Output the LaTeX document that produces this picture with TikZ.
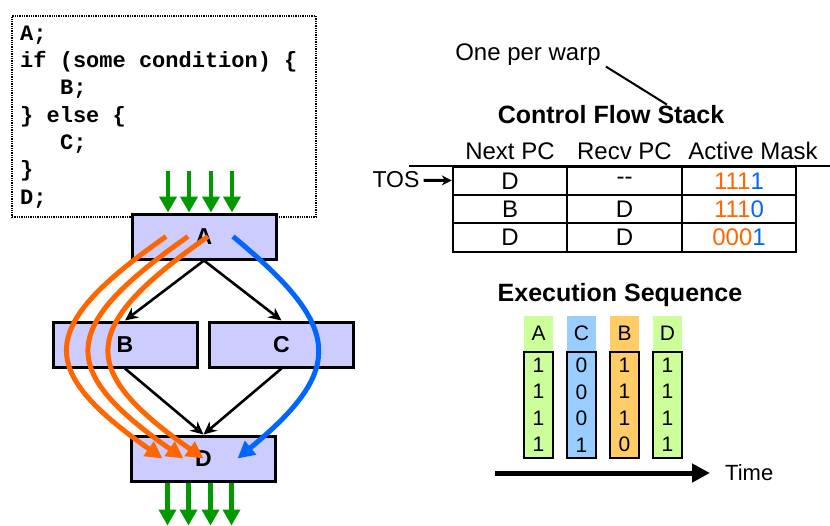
\documentclass[tikz,border=0pt]{standalone}
\usepackage{fontspec}
\setmainfont{Liberation Sans}
\newfontfamily\codefont{Liberation Mono}
\usetikzlibrary{arrows.meta,positioning,calc}

\definecolor{blockfill}{RGB}{204,204,255}
\definecolor{warpgreen}{RGB}{0,153,0}
\definecolor{pathor}{RGB}{255,102,0}
\definecolor{pathbl}{RGB}{0,102,255}
\definecolor{seqgreen}{RGB}{204,255,153}
\definecolor{seqblue}{RGB}{153,204,255}
\definecolor{seqor}{RGB}{255,204,102}

\newcommand\fsz[1]{\fontsize{#1}{#1}\selectfont}
\newcommand\hlo[1]{{\color{pathor}{#1}}}
\newcommand\hlb[1]{{\color{pathbl}{#1}}}

\tikzset{
  block/.style={draw, line width=3pt, fill=blockfill, minimum width=144pt, minimum height=45pt, font=\fsz{23}\bfseries},
  codeline/.style={anchor=base west, inner sep=0pt, font=\codefont\fsz{22}\bfseries},
  flowedge/.style={-{Stealth[length=13pt,width=12pt]}, line width=2.6pt},
  warp/.style={-{Triangle[length=16pt,width=17pt]}, line width=4.5pt, warpgreen},
  orpath/.style={-{Triangle[length=17pt,width=17pt]}, line width=5pt, pathor},
  blpath/.style={-{Triangle[length=17pt,width=17pt]}, line width=5pt, pathbl},
  txt/.style={inner sep=1pt, font=\fsz{24}},
  title/.style={inner sep=1pt, font=\fsz{25}\bfseries},
  stackcell/.style={draw, line width=2pt, minimum width=114.5pt, minimum height=28.3pt, inner sep=0pt, font=\fsz{24}},
  opbox/.style={minimum width=29pt, minimum height=35pt, inner sep=0pt, font=\fsz{21}},
  maskbox/.style={draw, line width=1.5pt, minimum width=29pt, minimum height=106pt, inner sep=0pt, align=center, font=\fontsize{21}{26.5}\selectfont},
  timeline/.style={-{Triangle[length=18pt,width=18pt]}, line width=5pt}
}

\begin{document}
\begin{tikzpicture}[x=1pt, y=-1pt]
  \useasboundingbox (0,0) rectangle (830,525);

  % code
  \node[draw, densely dotted, line width=1.3pt, minimum width=304pt, minimum height=201pt] (code) at (164,116.5) {};
  \node[codeline] (c1) at (20,40) {A;};
  \node[codeline] (c2) at (20,67.3) {if (some condition) \{};
  \node[codeline] (c3) at (60,94.7) {B;};
  \node[codeline] (c4) at (20,122) {\} else \{};
  \node[codeline] (c5) at (60,149.3) {C;};
  \node[codeline] (c6) at (20,176.7) {\}};
  \node[codeline] (c7) at (20,204) {D;};

  % control flow graph
  \node[block] (A) at (204,236.5) {A};
  \node[block] (B) at (125,344.5) {B};
  \node[block] (C) at (281.5,344.5) {C};
  \node[block] (D) at (203.5,458.5) {D};

  \draw[flowedge] (A.south) -- (B.north);
  \draw[flowedge] (A.south) -- (C.north);
  \draw[flowedge] (B.south) -- (D.north);
  \draw[flowedge] (C.south) -- (D.north);

  \foreach \dx in {-36,-15,7,28} {
    \draw[warp] ([xshift=\dx pt, yshift=42pt]A.north) -- ([xshift=\dx pt]A.north);
    \draw[warp] ([xshift=\dx pt]D.south) -- ([xshift=\dx pt, yshift=-43pt]D.south);
  }

  \foreach \sx/\ex in {-38/-41, -16/-20, 4/0}
    \draw[orpath] ([xshift=\sx pt]A.center) .. controls +(-128,90) and +(-128,-90) .. ([xshift=\ex pt]D.center);
  \draw[blpath] ([xshift=29pt]A.center) .. controls +(109,90) and +(109,-90) .. ([xshift=34pt]D.center);

  % stack
  \node[txt] (warpnote) at (528,54.5) {One per warp};
  \node[title] (cfs) at (611,115) {Control Flow Stack};
  \draw[line width=2pt] ([xshift=4pt]warpnote.south east) -- ([xshift=56pt]cfs.north);

  \foreach \r/\np/\rp/\am in {1/D/-{}-/{\hlo{111}\hlb{1}}, 2/B/D/{\hlo{111}\hlb{0}}, 3/D/D/{\hlo{000}\hlb{1}}} {
    \node[stackcell] (np\r) at (510,152.7+28.3*\r) {\np};
    \node[stackcell] (rp\r) at (624.5,152.7+28.3*\r) {\rp};
    \node[stackcell] (am\r) at (739,152.7+28.3*\r) {\am};
  }
  \node[txt, anchor=base] (hnp) at ([yshift=6pt]np1.north) {Next PC};
  \node[txt, anchor=base] (hrp) at ([yshift=6pt]rp1.north) {Recv PC};
  \node[txt, anchor=base] (ham) at ([xshift=14pt, yshift=6pt]am1.north) {Active Mask};
  \draw[line width=2pt] ([xshift=-43pt]np1.north west) -- ([xshift=34pt]am1.north east);

  \node[txt, font=\fsz{23}] (tos) at (396,180) {TOS};
  \draw[-{Stealth[length=10pt,width=10pt]}, line width=3pt, shorten <=3pt] (tos) -- (np1);

  % execution sequence
  \node[title] (exs) at (620,295) {Execution Sequence};
  \foreach \i/\op/\col/\bits in {0/A/seqgreen/{1\\1\\1\\1}, 1/C/seqblue/{0\\0\\0\\1}, 2/B/seqor/{1\\1\\1\\0}, 3/D/seqgreen/{1\\1\\1\\1}} {
    \node[opbox, fill=\col] (op\i) at (538.5+43*\i,333.5) {\op};
    \node[maskbox, fill=\col, below=0pt of op\i] (mask\i) {\bits};
  }

  \coordinate (t0) at (495,473);
  \coordinate (t1) at (710,473);
  \draw[timeline] (t0) -- (t1);
  \node[txt, font=\fsz{22}, right=14pt of t1] (time) {Time};
\end{tikzpicture}
\end{document}
